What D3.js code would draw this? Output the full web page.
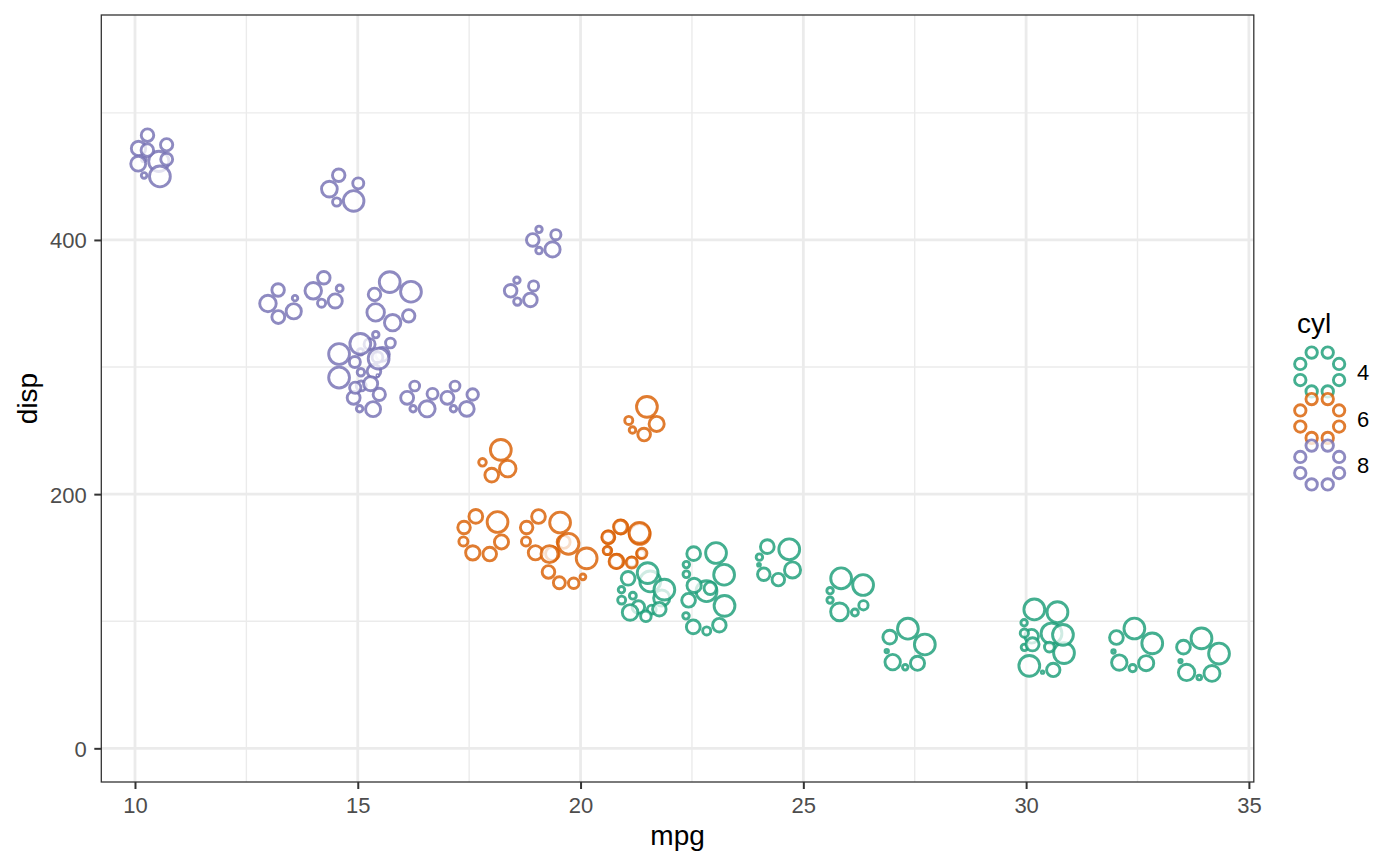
<!DOCTYPE html>
<html>
<head>
<meta charset="utf-8">
<script src="https://cdn.jsdelivr.net/npm/d3@7"></script>
<style>
  html, body { margin: 0; padding: 0; background: #ffffff; }
  svg { display: block; font-family: "Liberation Sans", Arial, Helvetica, sans-serif; }
</style>
</head>
<body>
<svg id="chart" width="1400" height="866"></svg>
<script>
// ---- data (mtcars) ----
const cars = ["Mazda RX4","Mazda RX4 Wag","Datsun 710","Hornet 4 Drive","Hornet Sportabout","Valiant","Duster 360","Merc 240D","Merc 230","Merc 280","Merc 280C","Merc 450SE","Merc 450SL","Merc 450SLC","Cadillac Fleetwood","Lincoln Continental","Chrysler Imperial","Fiat 128","Honda Civic","Toyota Corolla","Toyota Corona","Dodge Challenger","AMC Javelin","Camaro Z28","Pontiac Firebird","Fiat X1-9","Porsche 914-2","Lotus Europa","Ford Pantera L","Ferrari Dino","Maserati Bora","Volvo 142E"];
const mpg  = [21.0,21.0,22.8,21.4,18.7,18.1,14.3,24.4,22.8,19.2,17.8,16.4,17.3,15.2,10.4,10.4,14.7,32.4,30.4,33.9,21.5,15.5,15.2,13.3,19.2,27.3,26.0,30.4,15.8,19.7,15.0,21.4];
const cyl  = [6,6,4,6,8,6,8,4,4,6,6,8,8,8,8,8,8,4,4,4,4,8,8,8,8,4,4,4,8,6,8,4];
const disp = [160,160,108,258,360,225,360,146.7,140.8,167.6,167.6,275.8,275.8,275.8,472,460,440,78.7,75.7,71.1,120.1,318,304,350,400,79,120.3,95.1,351,145,301,121];
const hp   = [110,110,93,110,175,105,245,62,95,123,123,180,180,180,205,215,230,66,52,65,97,150,150,245,175,66,91,113,264,175,335,109];
const drat = [3.90,3.90,3.85,3.08,3.15,2.76,3.21,3.69,3.92,3.92,3.92,3.07,3.07,3.07,2.93,3.00,3.23,4.08,4.93,4.22,3.70,2.76,3.15,3.73,3.08,4.08,4.43,3.77,4.22,3.62,3.54,4.11];
const wt   = [2.620,2.875,2.320,3.215,3.440,3.460,3.570,3.190,3.150,3.440,3.440,4.070,3.730,3.780,5.250,5.424,5.345,2.200,1.615,1.835,2.465,3.520,3.435,3.840,3.845,1.935,2.140,1.513,3.170,2.770,3.570,2.780];
const qsec = [16.46,17.02,18.61,19.44,17.02,20.22,15.84,20.00,22.90,18.30,18.90,17.40,17.60,18.00,17.98,17.82,17.42,19.47,18.52,19.90,20.01,16.87,17.30,15.41,17.05,18.90,16.70,16.90,14.50,15.50,14.60,18.60];
const vs   = [0,0,1,1,0,1,0,1,1,1,1,0,0,0,0,0,0,1,1,1,1,0,0,0,0,1,0,1,0,0,0,1];
const am   = [1,1,1,0,0,0,0,0,0,0,0,0,0,0,0,0,0,1,1,1,0,0,0,0,0,1,1,1,1,1,1,1];
const gear = [4,4,4,3,3,3,3,4,4,4,4,3,3,3,3,3,3,4,4,4,3,3,3,3,3,4,5,5,5,5,5,4];
const carb = [4,4,1,1,2,1,4,2,2,4,4,3,3,3,4,4,4,1,2,1,1,2,2,4,2,1,2,2,4,6,8,2];

const xTicks = [10,15,20,25,30,35];
const yTicks = [0,200,400];
const cylLevels = [4,6,8];
const cylColors = ["#1B9E77","#D95F02","#7570B3"];

// ---- layout ----
const svg = d3.select("#chart");
const P = {left: 101.3, right: 1253.8, top: 15, bottom: 782};
const x = d3.scaleLinear().domain([9.244, 35.11]).range([P.left, P.right]);
const y = d3.scaleLinear().domain([-26.5, 577]).range([P.bottom, P.top]);
const color = d3.scaleOrdinal().domain(cylLevels).range(cylColors);

// background
svg.append("rect").attr("width",1400).attr("height",866).attr("fill","#fff");

// grid
const g = svg.append("g");
const xMinor = d3.range(7.5, 37.6, 5).filter(v => v > x.domain()[0] && v < x.domain()[1]);
const yMinor = [-100,100,300,500].filter(v => v > y.domain()[0] && v < y.domain()[1]);
g.selectAll(".xmin").data(xMinor).join("line")
  .attr("x1", d=>x(d)).attr("x2", d=>x(d)).attr("y1",P.top).attr("y2",P.bottom)
  .attr("stroke","#EBEBEB").attr("stroke-width",1.4);
g.selectAll(".ymin").data(yMinor).join("line")
  .attr("y1", d=>y(d)).attr("y2", d=>y(d)).attr("x1",P.left).attr("x2",P.right)
  .attr("stroke","#EBEBEB").attr("stroke-width",1.4);
g.selectAll(".xmaj").data(xTicks).join("line")
  .attr("x1", d=>x(d)).attr("x2", d=>x(d)).attr("y1",P.top).attr("y2",P.bottom)
  .attr("stroke","#EBEBEB").attr("stroke-width",2.8);
g.selectAll(".ymaj").data(yTicks).join("line")
  .attr("y1", d=>y(d)).attr("y2", d=>y(d)).attr("x1",P.left).attr("x2",P.right)
  .attr("stroke","#EBEBEB").attr("stroke-width",2.8);

// ---- glyphs ----
const vars = [hp, drat, wt, qsec, vs, am, gear, carb];
const rescalers = vars.map(col => d3.scaleLinear().domain(d3.extent(col)).range([0,1]));
const size = d3.scalePow().exponent(0.6).domain([0,1]).range([0,10.4]);
const SW = 2.9;

function glyph(values, opts) {
  const rs = values.map(v => opts.fixedR != null ? opts.fixedR : size(v));
  const ws = rs.map(r => r + 1.3);
  const W = d3.sum(ws);
  const R = opts.ringR != null ? opts.ringR : 1.06 * W / Math.PI;
  const spans = ws.map(w => 2*Math.PI*w/W);
  let a = Math.PI - (opts.centerFirst ? spans[0]/2 : 0);
  return rs.map((r,k) => {
    const th = a + spans[k]/2;
    a += spans[k];
    return {dx: R*Math.cos(th), dy: -R*Math.sin(th), r: r};
  });
}

const pts = svg.append("g");
mpg.forEach((m, i) => {
  const vals = vars.map((col,k) => rescalers[k](col[i]));
  const circles = glyph(vals, {centerFirst: vals[6] === 0});
  const cx = x(m), cy = y(disp[i]);
  const c = color(cyl[i]);
  circles.filter(d => d.r > 0.05).forEach(d => {
    pts.append("circle")
      .attr("cx", cx + d.dx).attr("cy", cy + d.dy).attr("r", d.r)
      .attr("fill","#ffffff").attr("fill-opacity",0.75)
      .attr("stroke", c).attr("stroke-opacity",0.82).attr("stroke-width",SW);
  });
});

// panel border
svg.append("rect").attr("x",P.left).attr("y",P.top)
  .attr("width",P.right-P.left).attr("height",P.bottom-P.top)
  .attr("fill","none").attr("stroke","#333333").attr("stroke-width",1.3);

// axes
const ax = svg.append("g").attr("transform",`translate(0,${P.bottom})`)
  .call(d3.axisBottom(x).tickValues(xTicks).tickSize(7).tickPadding(4).tickFormat(d3.format("d")));
const ay = svg.append("g").attr("transform",`translate(${P.left},0)`)
  .call(d3.axisLeft(y).tickValues(yTicks).tickSize(7).tickPadding(6).tickFormat(d3.format("d")));
[ax, ay].forEach(a => {
  a.select(".domain").remove();
  a.selectAll(".tick line").attr("stroke","#333333").attr("stroke-width",2);
  a.selectAll(".tick text").attr("fill","#4D4D4D")
    .style("font-size","22px").style("font-family","'Liberation Sans', Arial, sans-serif");
});
ax.selectAll(".tick text").attr("dy", null).attr("y", 31);
ay.selectAll(".tick text").attr("dy", null).attr("y", 8).attr("x", -14.5);

// axis titles
svg.append("text").attr("x",(P.left+P.right)/2).attr("y",845)
  .attr("text-anchor","middle").style("font-size","28px").attr("fill","#000").text("mpg");
svg.append("text").attr("transform",`translate(36.7,${(P.top+P.bottom)/2}) rotate(-90)`)
  .attr("text-anchor","middle").style("font-size","28px").attr("fill","#000").text("disp");

// legend
const lg = svg.append("g");
lg.append("text").attr("x",1297).attr("y",333).style("font-size","28px").attr("fill","#000").text("cyl");
const keyY = [372, 418.5, 465];
cylLevels.forEach((lv, j) => {
  const kx = 1319.7, ky = keyY[j];
  const circles = glyph(vars.map(() => 1), {fixedR: 5.7, ringR: 21});
  circles.forEach(d => {
    lg.append("circle").attr("cx",kx+d.dx).attr("cy",ky+d.dy).attr("r",d.r)
      .attr("fill","#ffffff").attr("fill-opacity",0.75)
      .attr("stroke",color(lv)).attr("stroke-opacity",0.82).attr("stroke-width",SW);
  });
  lg.append("text").attr("x",1357).attr("y",ky+8).style("font-size","22px").attr("fill","#000").text(lv);
});
</script>
</body>
</html>
